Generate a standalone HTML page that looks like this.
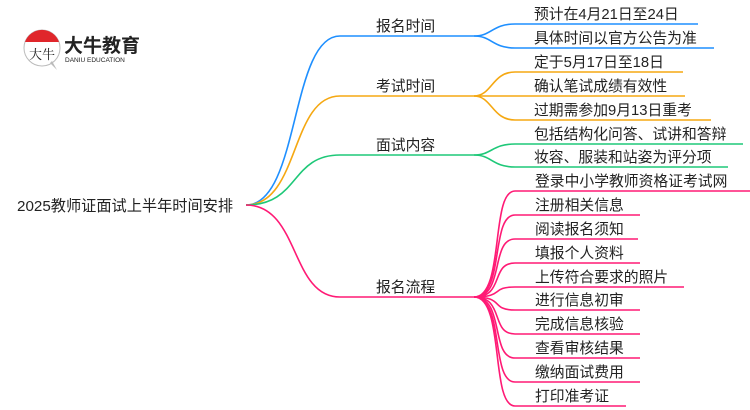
<!DOCTYPE html>
<html><head><meta charset="utf-8"><style>
body{margin:0;background:#fff;}
svg{display:block;}
text{font-family:"Liberation Sans","Noto Sans CJK SC",sans-serif;fill:#222;}
</style></head><body>
<svg width="750" height="410" viewBox="0 0 750 410" xmlns="http://www.w3.org/2000/svg">
<!-- logo -->
<circle cx="42" cy="48" r="18" fill="#fff" stroke="#bbb" stroke-width="1"/>
<path d="M25,42 A18,18 0 0 1 59,42 Z" fill="#e0262b"/>
<path d="M50,63 L57,70 L52,61 Z" fill="#bbb"/>
<text x="29" y="59" font-size="13" style="font-family:'Noto Serif CJK SC',serif">大牛</text>
<text x="64" y="52" font-size="19" font-weight="bold" fill="#222">大牛教育</text>
<text x="65" y="62" font-size="6.5" fill="#333">DANIU EDUCATION</text>

<g fill="none" stroke-width="1.6">
<path d="M246,205 C300,205 290,36 340,36 L474,36" stroke="#1e8fff"/>
<path d="M246,205 C300,205 290,96 340,96 L474,96" stroke="#f5a812"/>
<path d="M246,205 C300,205 290,155 340,155 L474,155" stroke="#1ec878"/>
<path d="M246,205 C300,205 290,297 340,297 L474,297" stroke="#ff1a75"/>
<g stroke="#1e8fff">
<path d="M474,36 C492,36 492,24 515,24 L698,24"/>
<path d="M474,36 C492,36 492,48 515,48 L714,48"/>
</g>
<g stroke="#f5a812">
<path d="M474,96 C492,96 492,72 515,72 L683,72"/>
<path d="M474,96 L685,96"/>
<path d="M474,96 C492,96 492,120 515,120 L711,120"/>
</g>
<g stroke="#1ec878">
<path d="M474,155 C492,155 492,144 515,144 L743,144"/>
<path d="M474,155 C492,155 492,167 515,167 L728,167"/>
</g>
<g stroke="#ff1a75">
<path d="M474,297 C505,297 490,191 515,191 L750,191"/>
<path d="M474,297 C505,297 490,215 515,215 L640,215"/>
<path d="M474,297 C505,297 490,239 515,239 L638,239"/>
<path d="M474,297 C505,297 490,263 515,263 L640,263"/>
<path d="M474,297 C505,297 490,287 515,287 L684,287"/>
<path d="M474,297 C505,297 490,310 515,310 L640,310"/>
<path d="M474,297 C505,297 490,334 515,334 L640,334"/>
<path d="M474,297 C505,297 490,358 515,358 L640,358"/>
<path d="M474,297 C505,297 490,382 515,382 L640,382"/>
<path d="M474,297 C505,297 490,406 515,406 L626,406"/>
</g>
</g>
<g font-size="14.8">
<text x="17" y="211" font-size="15.2">2025教师证面试上半年时间安排</text>
<text x="376" y="31">报名时间</text>
<text x="376" y="91">考试时间</text>
<text x="376" y="150">面试内容</text>
<text x="376" y="292">报名流程</text>
<text x="534" y="19">预计在4月21日至24日</text>
<text x="534" y="43">具体时间以官方公告为准</text>
<text x="534" y="67">定于5月17日至18日</text>
<text x="534" y="91">确认笔试成绩有效性</text>
<text x="534" y="115">过期需参加9月13日重考</text>
<text x="534" y="139">包括结构化问答、试讲和答辩</text>
<text x="534" y="162">妆容、服装和站姿为评分项</text>
<text x="535" y="186">登录中小学教师资格证考试网</text>
<text x="535" y="210">注册相关信息</text>
<text x="535" y="234">阅读报名须知</text>
<text x="535" y="258">填报个人资料</text>
<text x="535" y="282">上传符合要求的照片</text>
<text x="535" y="305">进行信息初审</text>
<text x="535" y="329">完成信息核验</text>
<text x="535" y="353">查看审核结果</text>
<text x="535" y="377">缴纳面试费用</text>
<text x="535" y="401">打印准考证</text>
</g>
</svg>
</body></html>
